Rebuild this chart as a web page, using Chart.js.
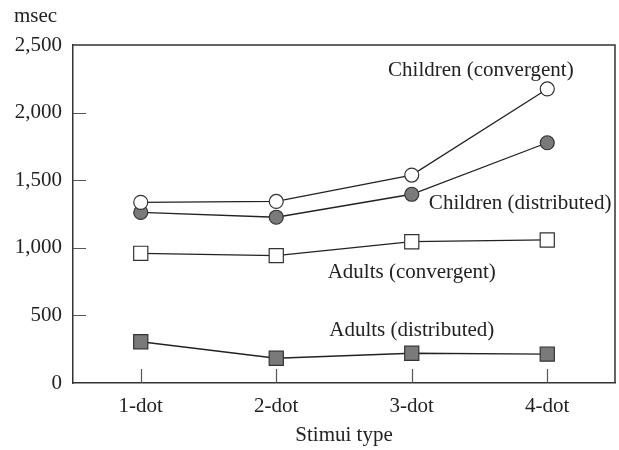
<!DOCTYPE html>
<html>
<head>
<meta charset="utf-8">
<script src="https://cdn.jsdelivr.net/npm/chart.js@4/dist/chart.umd.min.js"></script>
<style>
  html, body { margin: 0; padding: 0; background: #fff; }
  #wrap { width: 619px; height: 450px; }
</style>
</head>
<body>
<div id="wrap"><canvas id="myLineGraph" width="619" height="450"></canvas></div>
<script>
// categories and series
var stimuli = ["1-dot", "2-dot", "3-dot", "4-dot"];
var childrenConvergent = [1336, 1343, 1538, 2175];
var childrenDistributed = [1262, 1226, 1396, 1777];
var adultsConvergent = [959, 942, 1045, 1058];
var adultsDistributed = [305, 183, 220, 214];
var yTicks = [0, 500, 1000, 1500, 2000, 2500];

// series labels, placed in data coordinates (category index, msec)
var seriesLabels = ["Children (convergent)", "Children (distributed)", "Adults (convergent)", "Adults (distributed)"];
var labelX = [2.51, 2.80, 2.0, 2.0];
var labelY = [2315, 1331, 821, 392];

var serif = "'Liberation Serif', 'Times New Roman', serif";
var lineCol = "#222";
var grey = "#7a7a7a";

// draws the box, inward ticks, series labels and the unit
var framePlugin = {
    id: "frame",
    afterDraw: function(chart) {
        var ctx = chart.ctx;
        var a = chart.chartArea;
        var xs = chart.scales.x;
        var ys = chart.scales.y;
        ctx.save();
        ctx.strokeStyle = "#333";
        ctx.lineWidth = 1.5;
        ctx.beginPath();
        ctx.moveTo(a.left, a.top);
        ctx.lineTo(a.right, a.top);
        ctx.lineTo(a.right, a.bottom);
        ctx.stroke();

        ctx.strokeStyle = "#555";
        ctx.lineWidth = 1.2;
        ctx.beginPath();
        for (var i = 1; i < yTicks.length - 1; i++) {
            var py = Math.round(ys.getPixelForValue(yTicks[i])) + 0.5;
            ctx.moveTo(a.left, py);
            ctx.lineTo(a.left + 13, py);
        }
        for (var j = 0; j < stimuli.length; j++) {
            var px = Math.round(xs.getPixelForValue(j)) + 0.5;
            ctx.moveTo(px, a.bottom);
            ctx.lineTo(px, a.bottom - 14);
        }
        ctx.stroke();

        ctx.fillStyle = "#222";
        ctx.font = "21px " + serif;
        ctx.textAlign = "center";
        ctx.textBaseline = "middle";
        for (var k = 0; k < seriesLabels.length; k++) {
            ctx.fillText(seriesLabels[k], xs.getPixelForValue(labelX[k]), ys.getPixelForValue(labelY[k]));
        }
        ctx.textAlign = "left";
        ctx.fillText("msec", 14, 16);
        ctx.restore();
    }
};

var lineData = {
    labels: stimuli,
    datasets: [
        {
            label: seriesLabels[0],
            data: childrenConvergent,
            borderColor: lineCol,
            pointStyle: "circle",
            pointRadius: 7,
            pointBackgroundColor: "#fff",
            pointBorderColor: "#333"
        },
        {
            label: seriesLabels[1],
            data: childrenDistributed,
            borderColor: lineCol,
            pointStyle: "circle",
            pointRadius: 7,
            pointBackgroundColor: grey,
            pointBorderColor: "#333"
        },
        {
            label: seriesLabels[2],
            data: adultsConvergent,
            borderColor: lineCol,
            pointStyle: "rect",
            pointRadius: 10,
            pointBackgroundColor: "#fff",
            pointBorderColor: "#333"
        },
        {
            label: seriesLabels[3],
            data: adultsDistributed,
            borderColor: lineCol,
            pointStyle: "rect",
            pointRadius: 10,
            pointBackgroundColor: grey,
            pointBorderColor: "#333"
        }
    ]
};

var lineOptions = {
    responsive: false,
    animation: false,
    layout: { autoPadding: false, padding: { top: 45, right: 4, left: 0, bottom: 0 } },
    elements: {
        line: { borderWidth: 1.3, tension: 0, fill: false },
        point: { borderWidth: 1.2, hoverRadius: 7 }
    },
    plugins: {
        legend: { display: false },
        tooltip: { enabled: false }
    },
    scales: {
        x: {
            type: "category",
            offset: true,
            grid: { display: false, drawTicks: false },
            border: { display: true, color: "#333", width: 1.5 },
            ticks: { color: "#222", font: { family: serif, size: 21 }, padding: 11 },
            title: {
                display: true,
                text: "Stimui type",
                color: "#222",
                font: { family: serif, size: 21 },
                padding: { top: 0, bottom: 2 }
            },
            afterFit: function(scale) { scale.height = 67; }
        },
        y: {
            min: 0,
            max: 2500,
            afterBuildTicks: function(scale) {
                scale.ticks = yTicks.map(function(v) { return { value: v }; });
            },
            grid: { display: false, drawTicks: false },
            border: { display: true, color: "#333", width: 1.5 },
            ticks: {
                color: "#222",
                font: { family: serif, size: 21 },
                padding: 11,
                callback: function(v) { return v.toLocaleString("en-US"); }
            },
            afterFit: function(scale) { scale.width = 73; }
        }
    }
};

var ctx = document.getElementById("myLineGraph");
var myLineGraph = new Chart(ctx, {
    type: "line",
    data: lineData,
    options: lineOptions,
    plugins: [framePlugin]
});
</script>
</body>
</html>
